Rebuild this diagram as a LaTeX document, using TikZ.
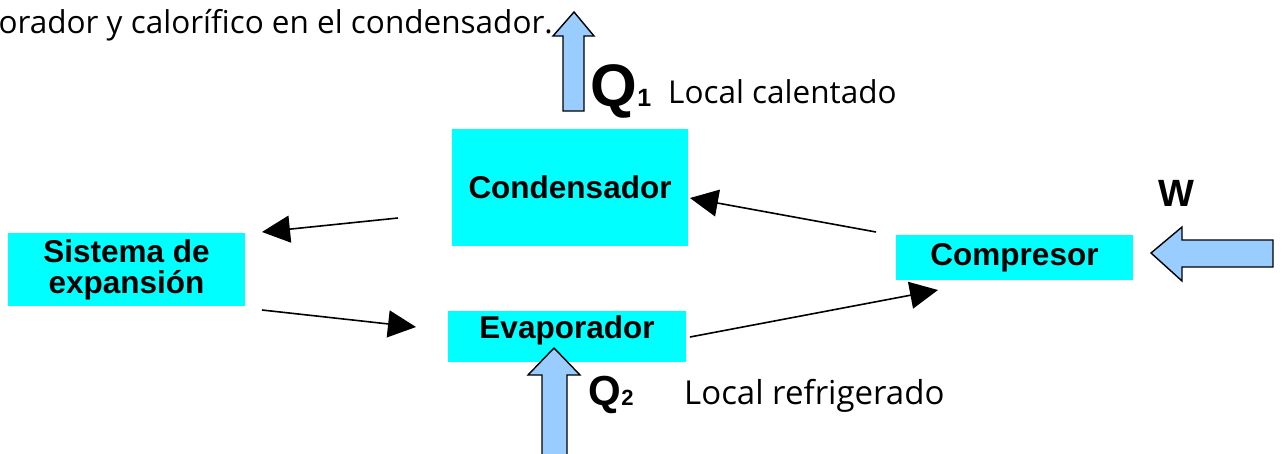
\documentclass[tikz,border=0pt]{standalone}
\usepackage{fontspec}
\setmainfont{Liberation Sans}
\newfontfamily\comicfont{Open Sans}
\usetikzlibrary{arrows.meta}
\definecolor{boxcyan}{HTML}{00FFFF}
\definecolor{heatblue}{HTML}{99CCFF}
\begin{document}
\begin{tikzpicture}[x=1pt,y=-1pt,
  box/.style={fill=boxcyan, draw=none, inner sep=0pt, align=center,
    font=\fontsize{31.5}{31}\selectfont\bfseries},
  flow/.style={line width=1.6pt, -{Triangle[length=28pt,width=27pt]}},
  blockarrow/.style={fill=heatblue, draw=black, line width=1.4pt, line join=miter},
  comictext/.style={font=\comicfont\fontsize{31.5}{34}\selectfont, inner sep=0pt},
  qlabel/.style={font=\fontsize{60}{60}\selectfont\bfseries, inner sep=0pt}
]
\useasboundingbox (0,0) rectangle (1282,453);
\clip (0,0) rectangle (1282,453);

% boxes
\node[box, minimum width=236pt, minimum height=117pt] (cond) at (570,187.5) {Condensador};
\node[box, minimum width=237pt, minimum height=73pt] (sist) at (126.5,269.5) {Sistema de\\expansión};
\node[box, minimum width=238pt, minimum height=51pt, text depth=19pt] (evap) at (567,336.5) {Evaporador};
\node[box, minimum width=237pt, minimum height=45pt] (comp) at (1014.5,257.5) {Compresor};

% connector end points
\coordinate (a1s) at (398,218);
\coordinate (a1e) at (262,232);
\coordinate (a2s) at (262,310);
\coordinate (a2e) at (416,327);
\coordinate (a3s) at (690,337);
\coordinate (a3e) at (938,290);
\coordinate (a4s) at (876,232);
\coordinate (a4e) at (690,198);

\draw[flow] (a1s) -- (a1e);
\draw[flow] (a2s) -- (a2e);
\draw[flow] (a3s) -- (a3e);
\draw[flow] (a4s) -- (a4e);

% block arrows
\draw[blockarrow] (563,111) -- (563,36) -- (553,36) -- (574,12) -- (594,36) -- (584,36) -- (584,111) -- cycle;
\draw[blockarrow] (542,460) -- (542,375) -- (528,375) -- (554,348) -- (580,375) -- (567,375) -- (567,460) -- cycle;
\draw[blockarrow] (1273,240) -- (1182,240) -- (1182,227) -- (1151,253) -- (1182,281) -- (1182,267) -- (1273,267) -- cycle;

% texts
\node[comictext, anchor=base east] (toptext) at (553,33) {orador y calorífico en el condensador.};
\node[qlabel, anchor=base west] (q1) at (590,106) {Q};
\node[font=\fontsize{25}{25}\selectfont\bfseries, inner sep=0pt, anchor=base west] (q1s) at (q1.base east) {1};
\node[comictext, anchor=base west] (loc1) at (668,103) {Local calentado};
\node[font=\fontsize{42}{42}\selectfont\bfseries, inner sep=0pt, anchor=base west] (q2) at (588,405) {Q};
\node[font=\fontsize{22}{22}\selectfont\bfseries, inner sep=0pt, anchor=base west] (q2s) at (q2.base east) {2};
\node[comictext, font=\comicfont\fontsize{33}{36}\selectfont, anchor=base west] (loc2) at (684,404) {Local refrigerado};
\node[font=\fontsize{38}{38}\selectfont\bfseries, inner sep=0pt, anchor=base] (w) at (1176,206) {W};
\end{tikzpicture}
\end{document}
